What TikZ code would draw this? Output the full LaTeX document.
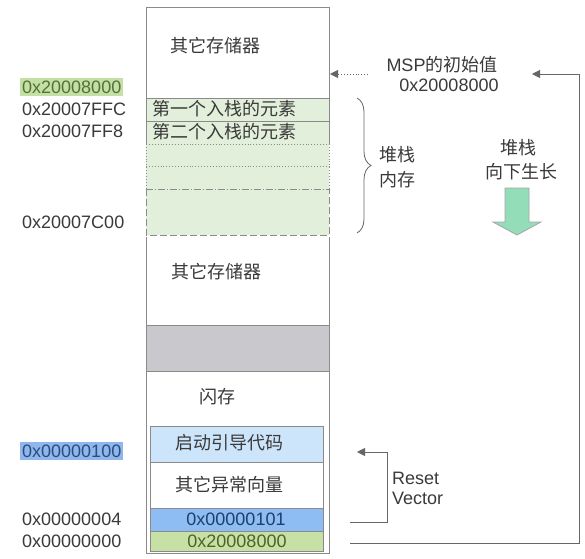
\documentclass[tikz,border=0pt]{standalone}
\usepackage{fontspec}
\setmainfont{Liberation Sans}
\newfontfamily\cjkfont{Noto Sans CJK SC}
\usetikzlibrary{arrows.meta,decorations.pathreplacing}
\definecolor{txt}{HTML}{3A3A3A}
\definecolor{framec}{HTML}{8A8A8A}
\definecolor{stackg}{HTML}{E2EFDA}
\definecolor{grayblk}{HTML}{C9C9CD}
\definecolor{bootb}{HTML}{CDE5FB}
\definecolor{vecb}{HTML}{8DBDF2}
\definecolor{vecg}{HTML}{C6E0A6}
\definecolor{hlg}{HTML}{C5E0A5}
\definecolor{hlb}{HTML}{8FB7EB}
\definecolor{arrg}{HTML}{93DDB9}
\definecolor{linec}{HTML}{666666}
\definecolor{rvtxt}{HTML}{1F3F6F}
\definecolor{sptxt}{HTML}{4F6228}
\definecolor{hlgtxt}{HTML}{55703A}
\definecolor{hlbtxt}{HTML}{2A4D80}
\newcommand\zh[1]{{\cjkfont #1}}
\tikzset{
  every node/.style={font=\fontsize{18}{21}\selectfont, text=txt, inner sep=0pt},
  addr/.style={anchor=west},
  frm/.style={draw=framec, line width=0.9pt},
  conn/.style={draw=linec, line width=0.9pt},
  tip/.style={-{Triangle[length=8pt,width=8pt]}}
}
\begin{document}
\begin{tikzpicture}[x=1pt,y=-1pt]
\useasboundingbox[fill=white] (0,0) rectangle (585,558);

% stack area fill
\fill[stackg] (146,98) rectangle (329,235);
% gray block
\fill[grayblk] (146,325) rectangle (329,371);

% frame upper part
\draw[frm] (146,144) -- (146,7) -- (329,7) -- (329,144);
\draw[frm] (146,98) -- (329,98);
\draw[frm] (146,121) -- (329,121);
% dotted / dashed stack rows
\draw[frm, dotted] (146,144) -- (329,144);
\draw[frm, dotted] (146,166) -- (329,166);
\draw[frm, dotted] (146,144) -- (146,189);
\draw[frm, dotted] (329,144) -- (329,189);
\draw[frm, dash pattern=on 7pt off 2pt on 1pt off 2pt] (146,189) -- (329,189);
\draw[frm, dash pattern=on 7pt off 3pt] (146,189) -- (146,235) -- (329,235) -- (329,189);
% frame lower part
\draw[frm] (146,237) -- (146,553) -- (329,553) -- (329,237);
\draw[frm] (146,325) -- (329,325);
\draw[frm] (146,371) -- (329,371);

% inner cells
\draw[frm, fill=bootb] (150,426) rectangle (323,462);
\draw[frm, fill=white] (150,462) rectangle (323,508);
\draw[frm, fill=vecb] (150,508) rectangle (323,531);
\draw[frm, fill=vecg] (150,531) rectangle (323,551);

% texts in column
\node (other1) at (215,46) {\zh{其它存储器}};
\node[anchor=west] (first) at (152,109) {\zh{第一个入栈的元素}};
\node[anchor=west] (second) at (152,132) {\zh{第二个入栈的元素}};
\node (other2) at (216,272) {\zh{其它存储器}};
\node (flash) at (217,397) {\zh{闪存}};
\node (boot) at (229,443) {\zh{启动引导代码}};
\node (exc) at (229,485) {\zh{其它异常向量}};
\node[text=rvtxt] (rv) at (236,519) {0x00000101};
\node[text=sptxt] (sp) at (237,541) {0x20008000};

% address labels
\node[addr, fill=hlg, inner xsep=2pt, inner ysep=3pt, text=hlgtxt] (a1) at (20,87) {0x20008000};
\node[addr] (a2) at (22,109) {0x20007FFC};
\node[addr] (a3) at (22,131) {0x20007FF8};
\node[addr] (a4) at (22,222) {0x20007C00};
\node[addr, fill=hlb, inner xsep=2pt, inner ysep=3pt, text=hlbtxt] (a5) at (20,451) {0x00000100};
\node[addr] (a6) at (22,519) {0x00000004};
\node[addr] (a7) at (22,541) {0x00000000};

% MSP
\node (msp) at (442,65) {MSP\zh{的初始值}};
\node (mspv) at (449,85) {0x20008000};
\coordinate (dstart) at (368,74);
\coordinate (dend) at (330,74);
\draw[conn, dotted, tip] (dstart) -- (dend);

% brace
\draw[conn, line width=0.8pt, decorate, decoration={brace, amplitude=14pt, aspect=0.5}] (357,98) -- (357,233);
\node (sm1) at (397,155) {\zh{堆栈}};
\node (sm2) at (397,180) {\zh{内存}};

% grows down
\node (g1) at (518,148) {\zh{堆栈}};
\node (g2) at (521,172) {\zh{向下生长}};
\draw[draw=gray!70, line width=0.8pt, fill=arrg] (505,188) -- (529,188) -- (529,222) -- (541,222) -- (517,235) -- (493,222) -- (505,222) -- cycle;

% big loop arrow
\coordinate (l0) at (350,543);
\coordinate (l1) at (579,543);
\coordinate (l2) at (579,74);
\coordinate (l3) at (532,74);
\draw[conn, tip] (l0) -- (l1) -- (l2) -- (l3);

% reset vector arrow
\coordinate (r0) at (350,522);
\coordinate (r1) at (387,522);
\coordinate (r2) at (387,452);
\coordinate (r3) at (357,452);
\draw[conn, tip] (r0) -- (r1) -- (r2) -- (r3);
\node[anchor=west, align=left] (rst) at (392,488) {Reset\\[-1pt]Vector};
\end{tikzpicture}
\end{document}
